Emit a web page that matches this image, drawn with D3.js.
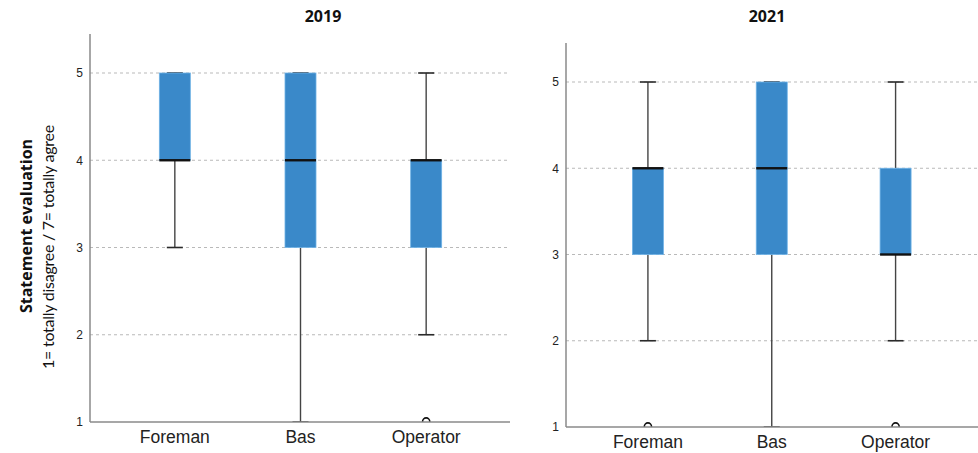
<!DOCTYPE html>
<html>
<head>
<meta charset="utf-8">
<script src="https://cdn.jsdelivr.net/npm/d3@7"></script>
<style>
  html, body { margin: 0; padding: 0; background: #fff; }
  svg { display: block; }
</style>
</head>
<body>
<svg id="chart" width="978" height="453"></svg>
<script>
// Job groups on the x axis
const categories = ["Foreman", "Bas", "Operator"];
const yTicks = [1, 2, 3, 4, 5];

// Box statistics per group: [lower whisker, Q1, median, Q3, upper whisker]
const stats2019 = [
  [3, 4, 4, 5, 5],
  [1, 3, 4, 5, 5],
  [2, 3, 4, 4, 5]
];
const outliers2019 = [[], [], [1]];

const stats2021 = [
  [2, 3, 4, 4, 5],
  [1, 3, 4, 5, 5],
  [2, 3, 3, 4, 5]
];
const outliers2021 = [[1], [], [1]];

const titles = ["2019", "2021"];

const svg = d3.select("#chart");
const BOX_FILL = "#3a89c9";

const panels = [
  { title: titles[0], stats: stats2019, outliers: outliers2019,
    axisX: 90, gridEnd: 510, xRange: [112, 489], yRange: [422, 73], yTop: 34, titleX: 323 },
  { title: titles[1], stats: stats2021, outliers: outliers2021,
    axisX: 566, gridEnd: 978, xRange: [586, 957.5], yRange: [427, 82], yTop: 43, titleX: 767 }
];

panels.forEach((p, pi) => {
  const g = svg.append("g");
  const x = d3.scaleBand().domain(categories).range(p.xRange).padding(0);
  const y = d3.scaleLinear().domain([1, 5]).range(p.yRange);
  const topVal = y.invert(p.yTop);

  // dashed gridlines
  g.append("g").selectAll("line").data(yTicks.filter(t => t > 1)).join("line")
    .attr("x1", p.axisX).attr("x2", p.gridEnd)
    .attr("y1", d => y(d)).attr("y2", d => y(d))
    .attr("stroke", "#b9b9b9").attr("stroke-width", 1)
    .attr("stroke-dasharray", "3,3");

  // clip so outlier markers sit on the baseline
  const clipId = "clip" + pi;
  g.append("clipPath").attr("id", clipId).append("rect")
    .attr("x", p.axisX).attr("y", y(topVal))
    .attr("width", p.gridEnd - p.axisX).attr("height", y(1) - y(topVal));

  const plot = g.append("g").attr("clip-path", `url(#${clipId})`);
  const bw = 31, capW = 16;

  const boxes = plot.selectAll("g.box").data(categories.map((c, i) => ({ c, s: p.stats[i], o: p.outliers[i] })))
    .join("g").attr("class", "box")
    .attr("transform", d => `translate(${x(d.c) + x.bandwidth() / 2},0)`);

  // whiskers
  boxes.append("line")
    .attr("x1", 0).attr("x2", 0)
    .attr("y1", d => y(d.s[0])).attr("y2", d => y(d.s[1]))
    .attr("stroke", "#444").attr("stroke-width", 1.4);
  boxes.append("line")
    .attr("x1", 0).attr("x2", 0)
    .attr("y1", d => y(d.s[3])).attr("y2", d => y(d.s[4]))
    .attr("stroke", "#444").attr("stroke-width", 1.4);
  // whisker caps
  boxes.append("line")
    .attr("x1", -capW / 2).attr("x2", capW / 2)
    .attr("y1", d => y(d.s[0])).attr("y2", d => y(d.s[0]))
    .attr("stroke", "#2a2a2a").attr("stroke-width", 1.6);
  boxes.append("line")
    .attr("x1", -capW / 2).attr("x2", capW / 2)
    .attr("y1", d => y(d.s[4])).attr("y2", d => y(d.s[4]))
    .attr("stroke", "#2a2a2a").attr("stroke-width", 1.6);

  // interquartile box
  boxes.append("rect")
    .attr("x", -bw / 2).attr("width", bw)
    .attr("y", d => y(d.s[3])).attr("height", d => y(d.s[1]) - y(d.s[3]))
    .attr("fill", BOX_FILL).attr("stroke", "#6fb2e6").attr("stroke-width", 0.8);

  // median
  boxes.append("line")
    .attr("x1", -bw / 2).attr("x2", bw / 2)
    .attr("y1", d => y(d.s[2])).attr("y2", d => y(d.s[2]))
    .attr("stroke", "#111").attr("stroke-width", 2.4);

  // outliers
  boxes.selectAll("circle").data(d => d.o).join("circle")
    .attr("cx", 0).attr("cy", v => y(v) - 0.5).attr("r", 3.6)
    .attr("fill", "none").attr("stroke", "#111").attr("stroke-width", 1.6);

  // y axis
  const yAxis = d3.axisLeft(y).tickValues(yTicks).tickSize(0).tickPadding(7).tickFormat(d3.format("d"));
  const ya = g.append("g").attr("transform", `translate(${p.axisX},0)`).call(yAxis);
  ya.select(".domain").remove();
  ya.selectAll("text").attr("font-family", "Liberation Sans, Arial, sans-serif")
    .attr("font-size", 12).attr("fill", "#222");
  g.append("line").attr("x1", p.axisX).attr("x2", p.axisX)
    .attr("y1", p.yTop).attr("y2", y(1))
    .attr("stroke", "#8a8a8a").attr("stroke-width", 1.5);

  // x axis
  const xAxis = d3.axisBottom(x).tickSize(0).tickPadding(9);
  const xa = g.append("g").attr("transform", `translate(0,${y(1)})`).call(xAxis);
  xa.select(".domain").remove();
  xa.selectAll("text").attr("font-family", "Liberation Sans, Arial, sans-serif")
    .attr("font-size", 17.5).attr("fill", "#222");
  g.append("line").attr("x1", p.axisX).attr("x2", p.gridEnd)
    .attr("y1", y(1)).attr("y2", y(1))
    .attr("stroke", "#8a8a8a").attr("stroke-width", 1.5);

  // panel title
  g.append("text").attr("x", p.titleX).attr("y", 22)
    .attr("text-anchor", "middle")
    .attr("font-family", "Open Sans, sans-serif").attr("font-weight", "bold")
    .attr("font-size", 16).attr("fill", "#111")
    .text(p.title);
});

// shared y-axis label
svg.append("text")
  .attr("transform", "translate(32,226) rotate(-90)")
  .attr("text-anchor", "middle")
  .attr("font-family", "Open Sans, sans-serif").attr("font-weight", "bold")
  .attr("font-size", 16).attr("fill", "#111")
  .text("Statement evaluation");
svg.append("text")
  .attr("transform", "translate(54,247) rotate(-90)")
  .attr("text-anchor", "middle")
  .attr("font-family", "Lato, sans-serif")
  .attr("font-size", 16).attr("letter-spacing", "-0.25")
  .attr("fill", "#111")
  .text("1= totally disagree / 7= totally agree");
</script>
</body>
</html>
